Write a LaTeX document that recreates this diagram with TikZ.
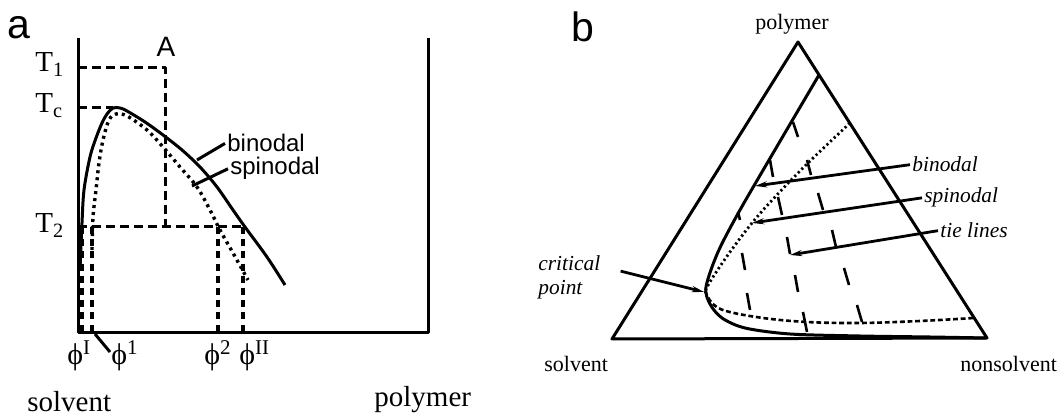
\documentclass[tikz,border=0pt]{standalone}
\usepackage{fontspec}
\setmainfont{Liberation Serif}
\setsansfont{Liberation Sans}
\usetikzlibrary{arrows.meta}

\begin{document}
\begin{tikzpicture}[x=0.5pt, y=-0.5pt, line join=round]
\tikzset{
  frame/.style={line width=1.5pt},
  bino/.style={line width=1.5pt},
  spino/.style={line width=1.7pt, dash pattern=on 1.5pt off 2pt},
  spinob/.style={line width=1.4pt, dash pattern=on 1.1pt off 1.4pt},
  lowb/.style={line width=1.3pt, dash pattern=on 2.4pt off 1.4pt},
  guide/.style={line width=1.5pt, dash pattern=on 4.5pt off 2.5pt},
  drop/.style={line width=1.7pt, dash pattern=on 3.5pt off 2.6pt},
  tie/.style={line width=1.3pt},
  lead/.style={line width=1.5pt},
  pointer/.style={line width=1.4pt, -{Stealth[length=6pt, width=3pt]}},
  serif/.style={inner sep=0pt, font=\fontsize{14.5}{16}\selectfont},
  phil/.style={inner sep=0pt, anchor=base west, font=\fontsize{15}{17}\selectfont},
  sans/.style={inner sep=1pt, font=\sffamily\fontsize{12}{14}\selectfont},
  panel/.style={inner sep=0pt, anchor=base west, font=\sffamily\fontsize{20.5}{24}\selectfont},
  vertex/.style={inner sep=0pt, anchor=base, font=\fontsize{11}{13}\selectfont},
  note/.style={inner sep=1pt, font=\itshape\fontsize{10.7}{12}\selectfont},
}
\useasboundingbox (0,0) rectangle (1061,416);

% --- panel a: temperature vs composition
\node[panel] (pa) at (7,39) {a};
\draw[frame] (78,38) -- (78,333) -- (428,333) -- (428,38);
\draw[guide] (78,68) -- (165,68) -- (165,227);
\draw[guide] (78,108) -- (113,108);
\draw[guide] (78,227) -- (245,227);
\foreach \x in {82,92,218,243}
  \draw[drop] (\x,227) -- (\x,333);
\draw[bino] plot[smooth, tension=0.55] coordinates {(80,270) (81,245) (82,223) (84,190) (90,157) (96,138) (102,123) (107,114) (113,108) (120,108) (127,111) (145,122) (163,135) (182,150) (200,167) (217,187) (233,210) (245,227) (267,257) (285,285)};
\draw[spino] plot[smooth, tension=0.55] coordinates {(92,250) (93,217) (96,190) (99,163) (103,140) (109,120) (116,114) (127,116) (147,130) (163,147) (180,167) (197,187) (210,210) (220,230) (233,253) (248,280)};

\node[serif, anchor=base west] (t1) at (35,72) {T\textsubscript{1}};
\node[serif, anchor=base west] (tc) at (35,113) {T\textsubscript{c}};
\node[serif, anchor=base west] (t2) at (35,233) {T\textsubscript{2}};
\node[sans, font=\sffamily\fontsize{14}{16}\selectfont] (ptA) at (166,47) {A};

\coordinate (onbin) at (197,160);
\coordinate (onspin) at (192,186);
\node[sans, anchor=base west] (lbin) at (225,152) {binodal};
\node[sans, anchor=base west] (lspin) at (228,175) {spinodal};
\draw[lead] (lbin.west) -- (onbin);
\draw[lead] (lspin.west) -- (onspin);

\node[phil] (phiA) at (67,365) {ϕ\textsuperscript{I}};
\node[phil] (phiB) at (111,365) {ϕ\textsuperscript{1}};
\node[phil] (phiC) at (204,365) {ϕ\textsuperscript{2}};
\node[phil] (phiD) at (239,365) {ϕ\textsuperscript{II}};
\coordinate (axfoot) at (95,334);
\coordinate (phifoot) at (110,352);
\draw[lead] (axfoot) -- (phifoot);

\node[serif, anchor=base west] (solA) at (27,412) {solvent};
\node[serif, anchor=base west] (polA) at (374,407) {polymer};

% --- panel b: ternary diagram
\node[panel] (pb) at (571,42) {b};
\coordinate (S) at (612,339);
\coordinate (P) at (798,42);
\coordinate (N) at (987,338);
\draw[frame] (S) -- (P) -- (N) -- cycle;
\node[vertex] (vP) at (792,30) {polymer};
\node[vertex, anchor=base west] (vS) at (544,372) {solvent};
\node[vertex, anchor=base west] (vN) at (960,372) {nonsolvent};

\draw[bino] plot[smooth, tension=0.5] coordinates {(819,75) (779,143) (740,210) (718,252) (706,287) (710,304) (722,318) (745,328) (790,334) (860,336) (930,337) (987,338)};
\draw[spinob] plot[smooth, tension=0.6] coordinates {(850,123) (808,163) (775,197) (752,223) (730,252) (713,277) (705,291)};
\draw[lowb] plot[smooth, tension=0.6] coordinates {(705,291) (712,303) (726,311) (763,318) (807,322) (860,323) (920,321) (974,318)};

% tie lines
\foreach \xa/\ya/\xb/\yb in {738/212/740/220, 742/253/745/270, 747/293/750/310,
  770/160/773/177, 778/197/782/215, 787/237/790/254, 795/275/798/292, 803/312/807/332,
  793/122/798/137, 807/160/811/175, 818/193/823/210, 832/230/836/247, 844/268/849/285, 857/305/862/322}
  \draw[tie] (\xa,\ya) -- (\xb,\yb);

\coordinate (tipbin) at (755,186);
\coordinate (tipspin) at (752,223);
\coordinate (tiptie) at (790,255);
\coordinate (tipcrit) at (704,292);
\node[note, anchor=base west] (nbin) at (910,172) {binodal};
\node[note, anchor=base west] (nspin) at (922,203) {spinodal};
\node[note, anchor=base west] (ntie) at (938,238) {tie lines};
\node[note, inner sep=0pt, align=left, anchor=north west] (ncrit) at (538,255) {critical\\point};
\draw[pointer] (nbin.west) -- (tipbin);
\draw[pointer] (nspin.west) -- (tipspin);
\draw[pointer] (ntie.west) -- (tiptie);
\draw[pointer] ([shift={(10pt,3pt)}]ncrit.east) -- (tipcrit);
\end{tikzpicture}
\end{document}
